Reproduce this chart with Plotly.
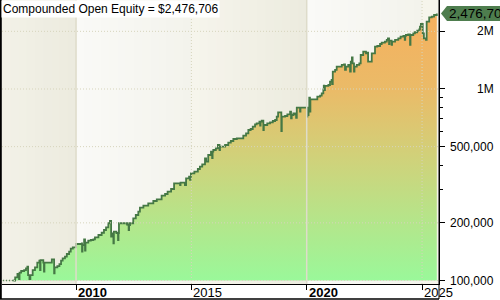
import math
import plotly.graph_objects as go

# ---------------- data ----------------
start_capital = 100000
years = [
    2007.28, 2007.36, 2007.46, 2007.53, 2007.55, 2007.62, 2007.75, 2007.83, 2007.89, 2007.92,
    2007.98, 2008.02, 2008.12, 2008.22, 2008.32, 2008.41, 2008.44, 2008.46, 2008.58, 2008.61,
    2008.63, 2008.95, 2009.05, 2009.07, 2009.19, 2009.28, 2009.35, 2009.42, 2009.52, 2009.60,
    2009.70, 2009.77, 2009.86, 2010.00, 2010.25, 2010.26, 2010.28, 2010.35, 2010.39, 2010.41,
    2010.53, 2010.64, 2010.75, 2010.82, 2010.97, 2011.11, 2011.21, 2011.30, 2011.40, 2011.47,
    2011.52, 2011.59, 2011.62, 2011.64, 2011.75, 2011.82, 2011.84, 2011.86, 2012.21, 2012.23,
    2012.27, 2012.28, 2012.30, 2012.34, 2012.48, 2012.59, 2012.70, 2012.77, 2012.92, 2013.13,
    2013.35, 2013.50, 2013.71, 2013.86, 2013.97, 2014.12, 2014.25, 2014.51, 2014.53, 2014.72,
    2014.77, 2014.90, 2014.94, 2014.96, 2014.98, 2015.13, 2015.28, 2015.37, 2015.47, 2015.59,
    2015.64, 2015.73, 2015.85, 2015.90, 2015.92, 2015.95, 2016.06, 2016.15, 2016.22, 2016.24,
    2016.46, 2016.60, 2016.71, 2016.82, 2016.97, 2017.25, 2017.37, 2017.47, 2017.57, 2017.66,
    2017.76, 2017.83, 2017.95, 2017.98, 2018.00, 2018.05, 2018.12, 2018.14, 2018.29, 2018.41,
    2018.53, 2018.63, 2018.70, 2018.76, 2018.90, 2018.92, 2019.06, 2019.16, 2019.28, 2019.32,
    2019.35, 2019.42, 2019.49, 2019.54, 2019.57, 2019.71, 2019.73, 2020.01, 2020.03, 2020.05,
    2020.08, 2020.11, 2020.14, 2020.16, 2020.46, 2020.58, 2020.65, 2020.72, 2020.74, 2020.76,
    2020.79, 2020.94, 2021.01, 2021.08, 2021.10, 2021.13, 2021.23, 2021.30, 2021.52, 2021.62,
    2021.66, 2021.70, 2021.80, 2021.88, 2021.91, 2021.96, 2021.99, 2022.05, 2022.07, 2022.17,
    2022.28, 2022.34, 2022.45, 2022.57, 2022.63, 2022.66, 2022.82, 2022.96, 2023.06, 2023.18,
    2023.25, 2023.39, 2023.47, 2023.52, 2023.57, 2023.59, 2023.68, 2023.70, 2023.83, 2023.97,
    2024.07, 2024.19, 2024.25, 2024.27, 2024.30, 2024.40, 2024.48, 2024.50, 2024.62, 2024.69,
    2024.79, 2024.88, 2024.91, 2024.95, 2025.03, 2025.08, 2025.17, 2025.20, 2025.31, 2025.42,
    2025.52, 2025.64,
]
equity = [
    100000, 103900, 108100, 101800, 109800, 112100, 113400, 115800, 118100, 106800,
    101800, 106800, 113400, 117200, 123900, 126900, 113400, 127900, 123900, 111200,
    123900, 129000, 109000, 117200, 119000, 121900, 126900, 130600, 133100, 137500,
    141400, 146600, 149100, 155100, 156400, 141400, 153000, 164100, 143100, 157500,
    161400, 162700, 164100, 168100, 172800, 177600, 183500, 189600, 199000, 204500,
    169300, 176400, 156400, 179800, 177000, 162700, 177000, 199000, 196000, 199000,
    194900, 183500, 194900, 199000, 211300, 219800, 228700, 240000, 245900, 253000,
    260100, 265500, 277300, 283000, 290900, 300500, 321800, 315300, 324100, 315300,
    341800, 348400, 334900, 348400, 362900, 370000, 382200, 392900, 404400, 434700,
    417200, 452300, 470600, 436300, 470600, 480300, 490100, 510000, 480300, 499700,
    510000, 525000, 535200, 548200, 552900, 570400, 587100, 610800, 618100, 635500,
    654100, 662000, 674800, 643200, 674800, 683000, 610800, 648600, 662000, 670000,
    680500, 688800, 716800, 755600, 603500, 716800, 722800, 737800, 761200, 703100,
    731500, 746700, 737800, 705800, 798600, 761200, 798600, 716800, 780000, 730000,
    800000, 900900, 761200, 883600, 911700, 922600, 949600, 996300, 1040000, 988100,
    1037000, 1049000, 1092000, 1114000, 1060000, 1231000, 1257000, 1308000, 1335000, 1346000,
    1257000, 1308000, 1335000, 1231000, 1389000, 1464000, 1362000, 1231000, 1308000, 1335000,
    1362000, 1505000, 1566000, 1536000, 1548000, 1389000, 1536000, 1663000, 1677000, 1718000,
    1745000, 1766000, 1803000, 1840000, 1718000, 1787000, 1698000, 1766000, 1803000, 1840000,
    1876000, 1892000, 1803000, 1892000, 1914000, 1930000, 1698000, 1914000, 1954000, 1978000,
    2016000, 2050000, 2115000, 2185000, 1954000, 1840000, 1803000, 2246000, 2368000, 2385000,
    2434000, 2476706,
]
y_tick_vals = [100000, 200000, 500000, 1000000, 2000000]
y_tick_text = ["100,000", "200,000", "500,000", "1M", "2M"]
y_minor_vals = [300000, 400000, 600000, 700000, 800000, 900000]
x_tick_years = [2010, 2015, 2020, 2025]
x_tick_bold = [True, False, True, False]

# ---------------- styling ----------------
FONT = "Liberation Sans, Arial, sans-serif"
LINE_COL = "#457845"
GRID_COL = "rgb(214,212,188)"
X0, X1 = 2006.79, 2025.735
Y0, Y1 = 4.98172, 6.4647
DARK_L, DARK_R = (246, 245, 236), (236, 235, 223)
LIGHT_L, LIGHT_R = (250, 250, 247), (243, 243, 236)

final = equity[-1]

shapes = []
# background bands with horizontal gradient
bounds = [X0] + x_tick_years + [X1]
NS = 14
for i in range(len(bounds) - 1):
    a, b = bounds[i], bounds[i + 1]
    cl, cr = (DARK_L, DARK_R) if i % 2 == 0 else (LIGHT_L, LIGHT_R)
    n = max(2, int(round(NS * (b - a) / 5)))
    for k in range(n):
        xa = a + (b - a) * k / n
        xb = a + (b - a) * (k + 1) / n
        t = (((xa + xb) / 2 - 2005) % 5) / 5
        col = tuple(round(c1 + (c2 - c1) * t) for c1, c2 in zip(cl, cr))
        shapes.append(dict(type="rect", xref="x", yref="paper", x0=xa, x1=xb + 0.03,
                           y0=0, y1=1, fillcolor="rgb(%d,%d,%d)" % col,
                           line=dict(width=0), layer="below"))

# grid lines (drawn above fill)
for v in y_tick_vals:
    shapes.append(dict(type="line", xref="paper", yref="y", x0=0, x1=1, y0=v, y1=v,
                       line=dict(color=GRID_COL, width=1, dash="1px,2px"), layer="above"))
for yr, bold in zip(x_tick_years, x_tick_bold):
    shapes.append(dict(type="line", xref="x", yref="paper", x0=yr, x1=yr, y0=0, y1=1,
                       line=dict(color="rgb(222,220,202)" if bold else GRID_COL,
                                 width=1.5 if bold else 1,
                                 dash="solid" if bold else "1px,2px"), layer="above"))

# outer frame
pb = -15 / 284
shapes += [
    dict(type="line", xref="paper", yref="paper", x0=-1.2 / 437, x1=-1.2 / 437, y0=pb, y1=1,
         line=dict(color="black", width=2)),
    dict(type="line", xref="paper", yref="paper", x0=-2 / 437, x1=1, y0=pb, y1=pb,
         line=dict(color="black", width=1.5)),
    dict(type="line", xref="paper", yref="paper", x0=1, x1=1, y0=pb, y1=1,
         line=dict(color="black", width=1)),
]

# value tag on the right axis
shapes.append(dict(type="path", xref="paper", yref="y", xsizemode="pixel", ysizemode="pixel",
                   xanchor=1, yanchor=final,
                   path="M2,0 L8,7.5 L80,7.5 L80,-7.5 L8,-7.5 Z",
                   fillcolor="#4E7D4E", line=dict(width=0), layer="above"))

fig = go.Figure()
fig.add_trace(go.Scatter(x=[years[0], years[-1]], y=[start_capital, start_capital],
                         mode="lines", line=dict(width=0), hoverinfo="skip",
                         showlegend=False))
fig.add_trace(go.Scatter(
    x=years, y=equity, mode="lines", line=dict(color=LINE_COL, width=1.8, shape="hv"),
    fill="tonexty",
    fillgradient=dict(type="vertical",
                      colorscale=[[0, "rgb(154,248,154)"], [0.43, "rgb(205,212,124)"],
                                  [0.71, "rgb(234,187,104)"], [1, "rgb(246,176,94)"]]),
    showlegend=False))
fig.add_trace(go.Scatter(x=[X0 + 0.05, years[0]], y=[start_capital, start_capital],
                         mode="lines", line=dict(color=LINE_COL, width=1.5, dash="1px,2px"),
                         showlegend=False, hoverinfo="skip"))

annotations = [
    dict(xref="paper", yref="paper", x=0, y=1, xanchor="left", yanchor="top", xshift=-1,
         text="Compounded Open Equity = $%s" % format(final, ","), showarrow=False,
         bgcolor="white", borderpad=1, font=dict(family=FONT, size=12, color="black")),
    dict(xref="paper", yref="y", x=1, y=math.log10(final), xanchor="left", yanchor="middle",
         xshift=8, text=format(final, ","), showarrow=False,
         font=dict(family=FONT, size=13.5, color="black")),
]
for yr, bold in zip(x_tick_years, x_tick_bold):
    annotations.append(dict(xref="x", yref="paper", x=yr, y=0, xanchor="left", yanchor="top",
                            xshift=0, yshift=1, showarrow=False,
                            text=("<b>%d</b>" % yr) if bold else str(yr),
                            font=dict(family=FONT, size=13, color="black")))
# y tick labels (right-aligned near the right edge)
for v, t in zip(y_tick_vals, y_tick_text):
    annotations.append(dict(xref="paper", yref="y", x=1, y=math.log10(v), xanchor="right",
                            yanchor="middle", xshift=57, showarrow=False, text=t,
                            font=dict(family=FONT, size=12, color="black")))

fig.update_layout(
    width=500, height=300,
    margin=dict(l=2, r=61, t=0, b=16, pad=0),
    paper_bgcolor="white", plot_bgcolor="white",
    shapes=shapes, annotations=annotations,
    xaxis=dict(range=[X0, X1], showgrid=False, zeroline=False, showline=True,
               linecolor="black", linewidth=1, ticks="outside", ticklen=5,
               tickcolor="black", tickvals=x_tick_years, showticklabels=False,
               fixedrange=True),
    yaxis=dict(type="log", range=[Y0, Y1], side="right", showgrid=False, zeroline=False,
               showline=True, linecolor="black", linewidth=1, ticks="outside",
               ticklen=5, tickcolor="black", tickvals=y_tick_vals,
               showticklabels=False,
               minor=dict(tickvals=y_minor_vals, ticks="outside", ticklen=3,
                          tickcolor="black", showgrid=False),
               fixedrange=True),
)

fig.write_html("out.html")
